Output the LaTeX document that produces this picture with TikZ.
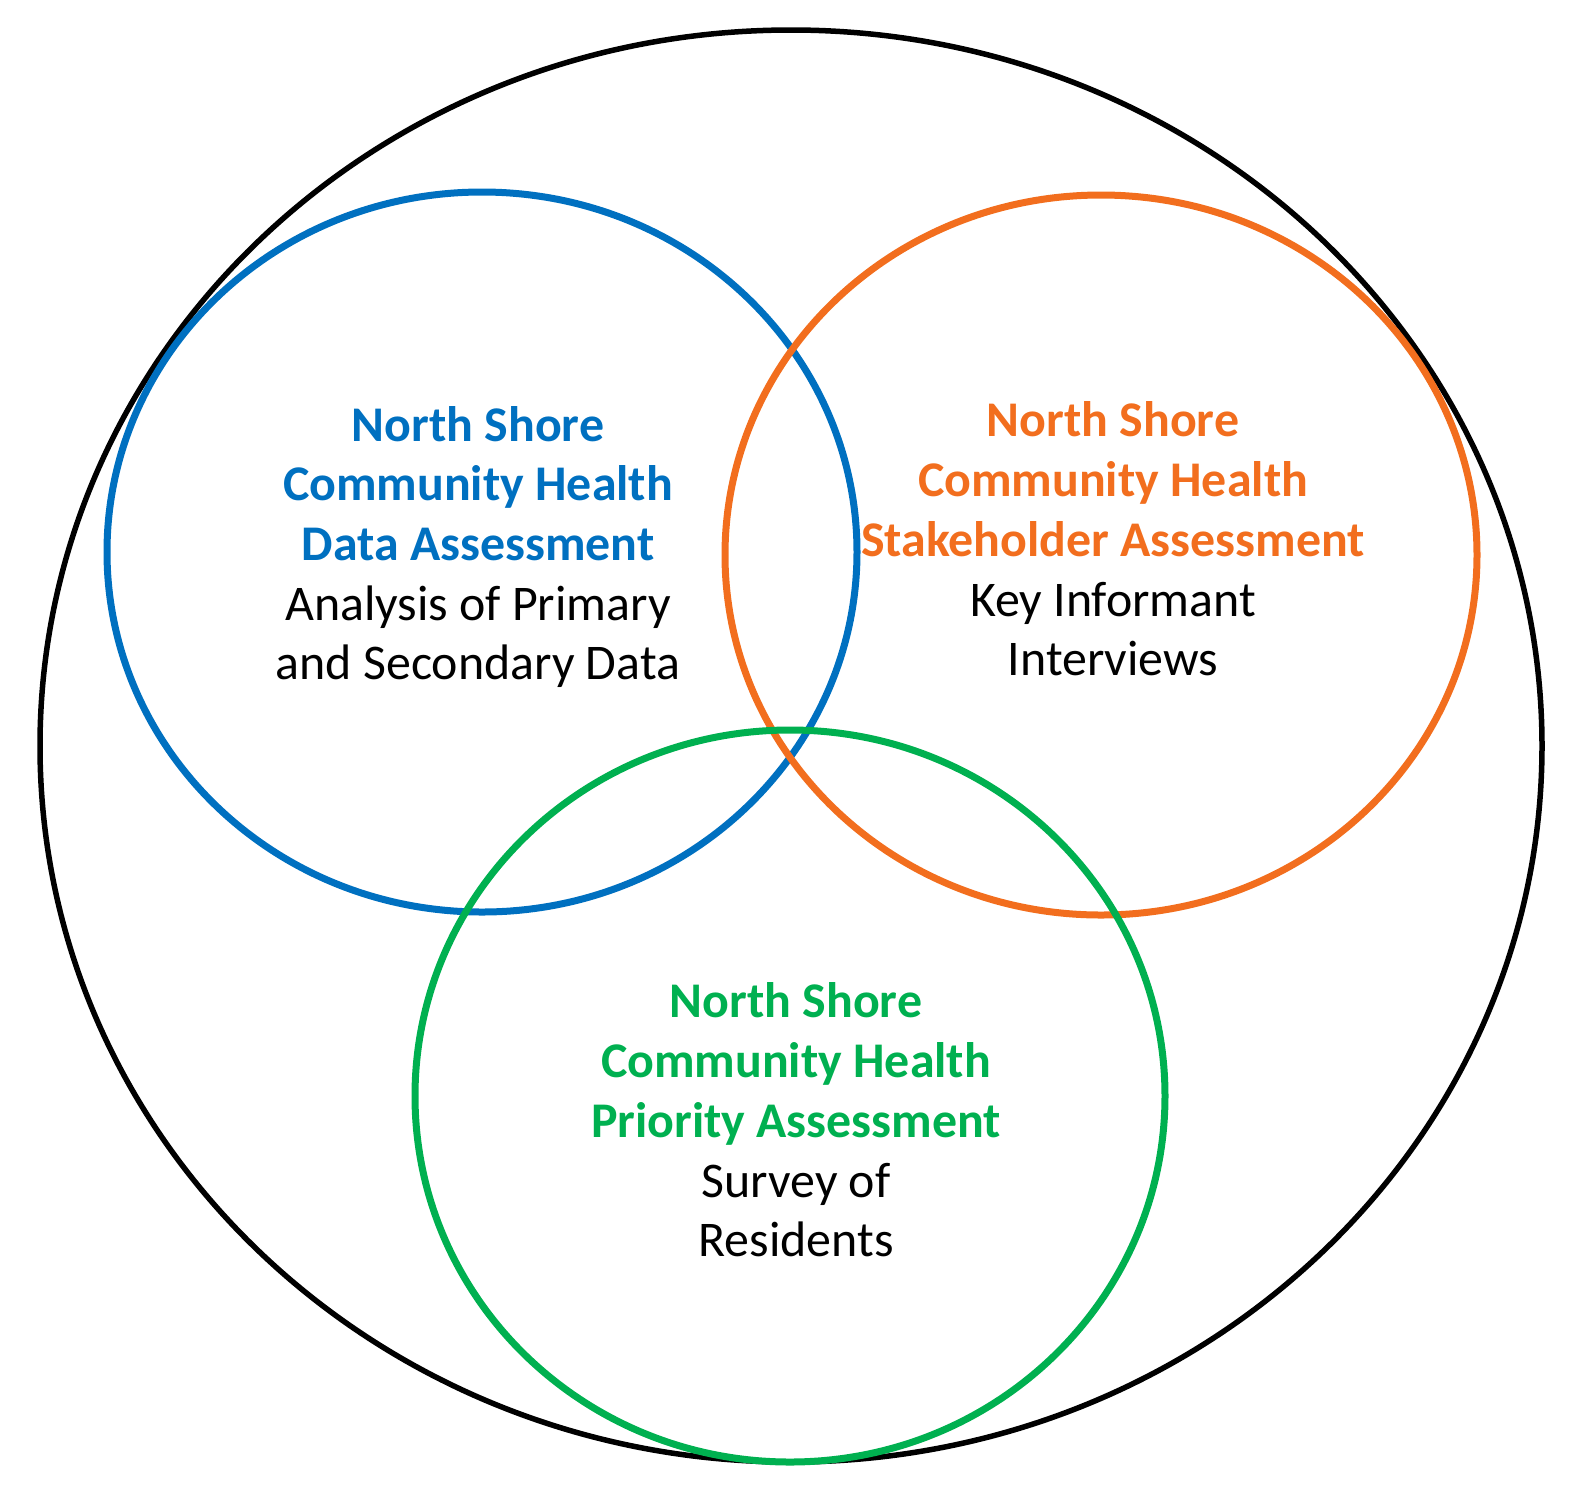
\documentclass[tikz,border=0pt]{standalone}
\usepackage{fontspec}
\setmainfont{Carlito}
\definecolor{cblue}{RGB}{0,112,192}
\definecolor{corange}{RGB}{242,110,30}
\definecolor{cgreen}{RGB}{0,176,80}
\begin{document}
\begin{tikzpicture}[x=0.02cm,y=-0.02cm,
  ring/.style={line width=7*0.02cm},
  lbl/.style={align=center,font=\fontsize{28.4}{34}\selectfont}]
\useasboundingbox (0,0) rectangle (1579,1499);
\draw[line width=5.5*0.02cm] (791,746) ellipse [x radius=751, y radius=716];
\draw[ring,cblue] (482,552) ellipse [x radius=375, y radius=360];
\draw[ring,corange] (1101,555) ellipse [x radius=376, y radius=360];
\draw[ring,cgreen] (790,1096) ellipse [x radius=375, y radius=366];
\node[lbl] (tb) at (478,547) {\textcolor{cblue}{\textbf{North Shore}}\\\textcolor{cblue}{\textbf{Community Health}}\\\textcolor{cblue}{\textbf{Data Assessment}}\\Analysis of Primary\\and Secondary Data};
\node[lbl] (to) at (1113,539) {\textcolor{corange}{\textbf{North Shore}}\\\textcolor{corange}{\textbf{Community Health}}\\\textcolor{corange}{\textbf{Stakeholder Assessment}}\\Key Informant\\Interviews};
\node[lbl] (tg) at (796,1120) {\textcolor{cgreen}{\textbf{North Shore}}\\\textcolor{cgreen}{\textbf{Community Health}}\\\textcolor{cgreen}{\textbf{Priority Assessment}}\\Survey of\\Residents};
\end{tikzpicture}
\end{document}
